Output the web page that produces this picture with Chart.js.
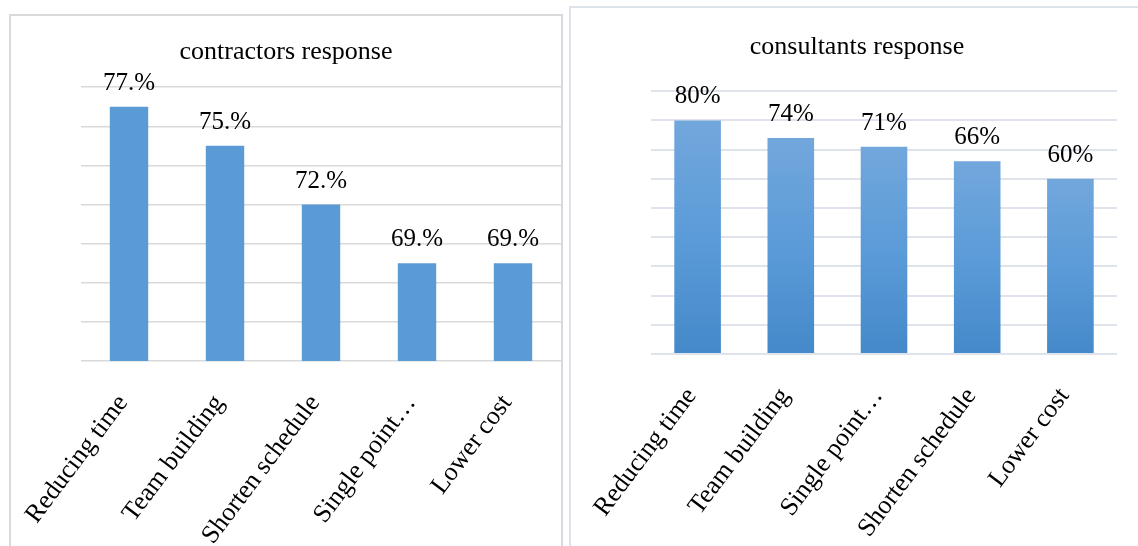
<!DOCTYPE html>
<html>
<head>
<meta charset="utf-8">
<script src="https://cdn.jsdelivr.net/npm/chart.js@4/dist/chart.umd.min.js"></script>
<style>
  html, body { margin: 0; padding: 0; background: #fff; width: 1138px; height: 546px; overflow: hidden; }
  .panel { position: absolute; box-sizing: border-box; background: #fff; }
  #leftPanel { left: 9px; top: 14px; width: 554px; height: 545px; border: 2px solid #d9d9d9; }
  #rightPanel { left: 569px; top: 6px; width: 576px; height: 545px; border: 2px solid #dde3ea; }
  canvas { display: block; }
</style>
</head>
<body>
<div class="panel" id="leftPanel"><canvas id="contractorsChart" width="550" height="541"></canvas></div>
<div class="panel" id="rightPanel"><canvas id="consultantsChart" width="572" height="541"></canvas></div>

<script>
// Contractors
const contractorLabels = ['Reducing time', 'Team building', 'Shorten schedule', 'Single point…', 'Lower cost'];
const contractorValues = [77, 75, 72, 69, 69];
const contractorTicks = { min: 64, max: 78, step: 2 };

// Consultants
const consultantLabels = ['Reducing time', 'Team building', 'Single point…', 'Shorten schedule', 'Lower cost'];
const consultantValues = [80, 74, 71, 66, 60];
const consultantTicks = { min: 0, max: 90, step: 10 };

const serif = 'Liberation Serif, Times New Roman, serif';

// value labels above each bar
const barValues = {
  id: 'barValues',
  afterDatasetsDraw(chart, args, opts) {
    const { ctx } = chart;
    const meta = chart.getDatasetMeta(0);
    const values = chart.data.datasets[0].data;
    ctx.save();
    ctx.font = '25px ' + serif;
    ctx.fillStyle = '#000';
    ctx.textAlign = 'center';
    ctx.textBaseline = 'alphabetic';
    meta.data.forEach((bar, i) => {
      ctx.fillText(values[i] + opts.suffix, bar.x, bar.y - 17);
    });
    ctx.restore();
  }
};

function makeChart(id, labels, values, ticks, opts) {
  return new Chart(document.getElementById(id).getContext('2d'), {
    type: 'bar',
    data: {
      labels: labels,
      datasets: [{
        data: values,
        backgroundColor: opts.barColor,
        borderWidth: 0,
        barPercentage: opts.barPct,
        categoryPercentage: 1
      }]
    },
    options: {
      responsive: false,
      animation: false,
      layout: { padding: 0 },
      plugins: {
        legend: { display: false },
        tooltip: { enabled: false },
        title: {
          display: true,
          text: opts.title,
          color: '#000',
          font: { family: serif, size: 26, weight: 'normal', lineHeight: 1.2 },
          padding: opts.titlePad
        },
        barValues: { suffix: opts.suffix }
      },
      scales: {
        x: {
          grid: { display: false },
          border: { display: false },
          ticks: {
            color: '#000',
            font: { family: serif, size: 26 },
            minRotation: 53,
            maxRotation: 53,
            padding: 20,
            labelOffset: -6,
            autoSkip: false
          },
          afterFit(scale) {
            // keep the plot area fixed, let long labels run into the margin
            scale.height = opts.xHeight;
            scale.paddingLeft = 0;
            scale.paddingRight = 0;
          }
        },
        y: {
          min: ticks.min,
          max: ticks.max,
          ticks: { display: false, stepSize: ticks.step },
          grid: { color: opts.gridColor, lineWidth: opts.gridWidth, drawTicks: false },
          border: { display: false },
          afterFit(scale) { scale.width = opts.yWidth; }
        },
        yr: {
          type: 'linear',
          position: 'right',
          ticks: { display: false },
          grid: { display: false },
          border: { display: false },
          afterFit(scale) { scale.width = opts.rightGap; }
        }
      }
    },
    plugins: [barValues]
  });
}

makeChart('contractorsChart', contractorLabels, contractorValues, contractorTicks, {
  title: 'contractors response',
  suffix: '.%',
  barColor: '#5b9bd5',
  barPct: 0.4,
  gridColor: '#d9d9d9',
  gridWidth: 1.5,
  titlePad: { top: 21, bottom: 19 },
  xHeight: 196,
  yWidth: 70,
  rightGap: 0
});

// vertical gradient on every bar, lighter at the top
function gradientBar(context) {
  const chart = context.chart;
  const { chartArea, scales } = chart;
  if (!chartArea || context.raw === undefined) return '#5b9bd5';
  const top = scales.y.getPixelForValue(context.raw);
  const base = scales.y.getPixelForValue(0);
  const g = chart.ctx.createLinearGradient(0, top, 0, base);
  g.addColorStop(0, '#72a7dc');
  g.addColorStop(0.5, '#5b9bd8');
  g.addColorStop(1, '#4589ca');
  return g;
}

makeChart('consultantsChart', consultantLabels, consultantValues, consultantTicks, {
  title: 'consultants response',
  suffix: '%',
  barColor: gradientBar,
  barPct: 0.5,
  gridColor: '#dfe4ec',
  gridWidth: 2,
  titlePad: { top: 24, bottom: 28 },
  xHeight: 195,
  yWidth: 80,
  rightGap: 26
});
</script>
</body>
</html>
